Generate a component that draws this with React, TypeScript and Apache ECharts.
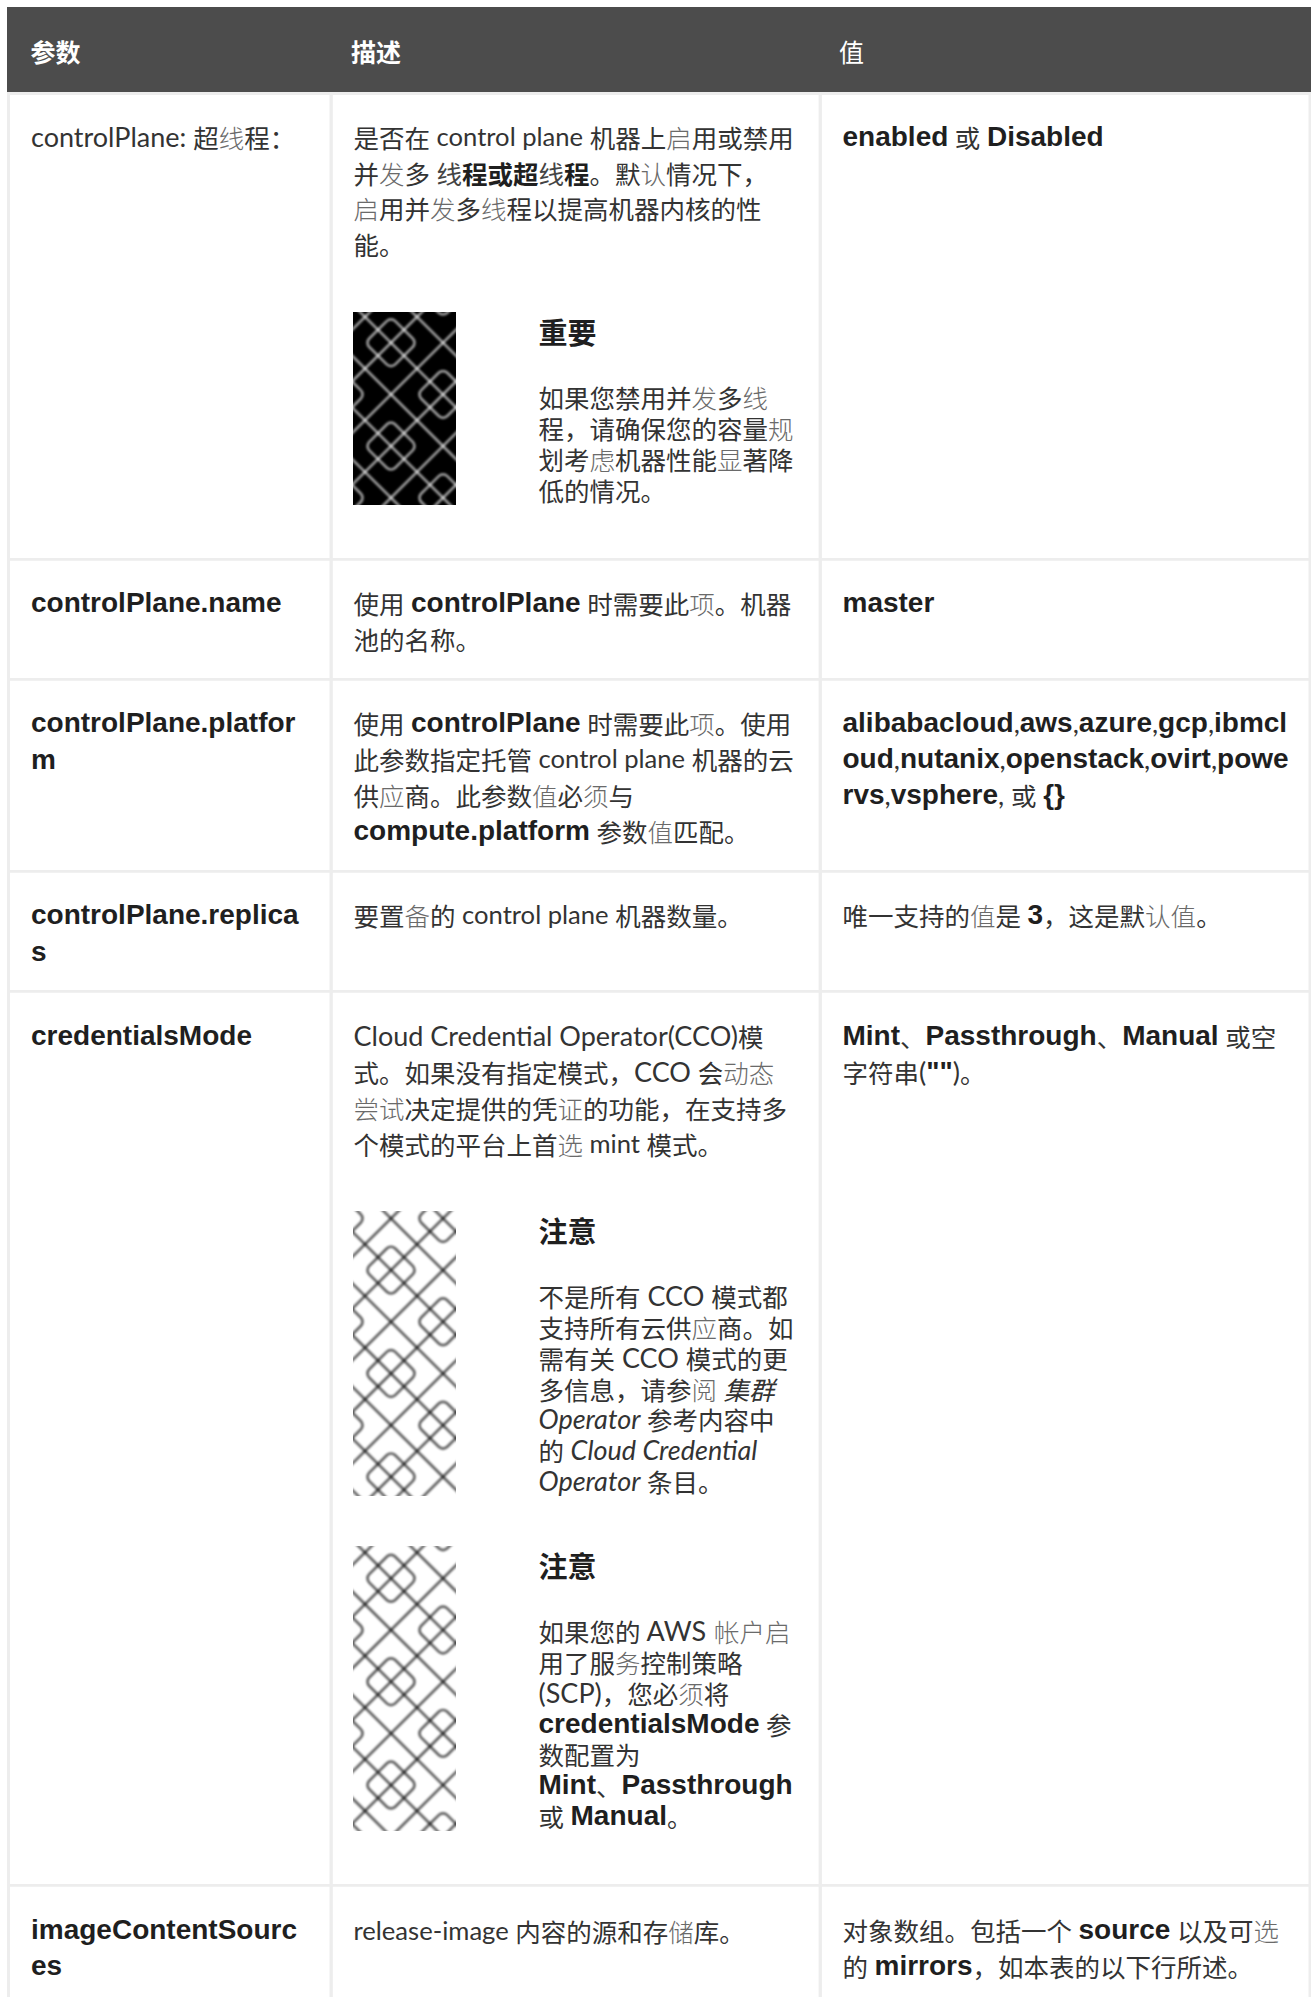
import React, { useEffect, useRef } from "react";
import * as echarts from "echarts";

// ---------- content ----------
const headers = ["参数", "描述", "值"];

const row1Param = ["controlPlane: 超线程："];
const row1Desc = ["是否在 control plane 机器上启用或禁用", "并发多 **线程或超线程**。默认情况下，", "启用并发多线程以提高机器内核的性", "能。"];
const row1NoteTitle = "重要";
const row1Note = ["如果您禁用并发多线", "程，请确保您的容量规", "划考虑机器性能显著降", "低的情况。"];
const row1Value = ["**enabled** 或 **Disabled**"];

const row2Param = ["**controlPlane.name**"];
const row2Desc = ["使用 **controlPlane** 时需要此项。机器", "池的名称。"];
const row2Value = ["**master**"];

const row3Param = ["**controlPlane.platfor**", "**m**"];
const row3Desc = ["使用 **controlPlane** 时需要此项。使用", "此参数指定托管 control plane 机器的云", "供应商。此参数值必须与", "**compute.platform** 参数值匹配。"];
const row3Value = ["**alibabacloud**,**aws**,**azure**,**gcp**,**ibmcl**", "**oud**,**nutanix**,**openstack**,**ovirt**,**powe**", "**rvs**,**vsphere**, 或 **{}**"];

const row4Param = ["**controlPlane.replica**", "**s**"];
const row4Desc = ["要置备的 control plane 机器数量。"];
const row4Value = ["唯一支持的值是 **3**，这是默认值。"];

const row5Param = ["**credentialsMode**"];
const row5Desc = ["Cloud Credential Operator(CCO)模", "式。如果没有指定模式，CCO 会动态", "尝试决定提供的凭证的功能，在支持多", "个模式的平台上首选 mint 模式。"];
const row5Value = ["**Mint**、**Passthrough**、**Manual** 或空", "字符串(**\"\"**)。"];
const row5Note1Title = "注意";
const row5Note1 = ["不是所有 CCO 模式都", "支持所有云供应商。如", "需有关 CCO 模式的更", "多信息，请参阅 _集群_", "_Operator_ 参考内容中", "的 _Cloud Credential_", "_Operator_ 条目。"];
const row5Note2Title = "注意";
const row5Note2 = ["如果您的 AWS 帐户启", "用了服务控制策略", "(SCP)，您必须将", "**credentialsMode** 参", "数配置为", "**Mint**、**Passthrough**", "或 **Manual**。"];

const row6Param = ["**imageContentSourc**", "**es**"];
const row6Desc = ["release-image 内容的源和存储库。"];
const row6Value = ["对象数组。包括一个 **source** 以及可选", "的 **mirrors**，如本表的以下行所述。"];

// ---------- layout ----------
const COL_X = [31, 353.5, 842.5];
const NOTE_TEXT_X = 538.5;
const NOTE_IMG_X = 353;
const NOTE_IMG_W = 103;
const LINE = "#ededed";

// glyphs that the reference renders from a thinner fallback face
const THIN = "线发认虑规显应项须值备动态尝试证选务储阅帐户启";

const LATIN = "Lato";
const CJK = "'Noto Sans CJK SC'";
const BOLD = "'Liberation Sans'";
const richStyles: any = {
  r: { fontFamily: LATIN, fontSize: 27, fontWeight: 400, fill: "#333333" },
  s: { fontFamily: LATIN, fontSize: 25.6, fontWeight: 400, fill: "#333333" },
  c: { fontFamily: CJK, fontSize: 25.5, fontWeight: 400, fill: "#333333" },
  l: { fontFamily: CJK, fontSize: 25.5, fontWeight: 300, fill: "#6a6a6a" },
  b: { fontFamily: BOLD, fontSize: 28, fontWeight: 700, fill: "#1f1f1f" },
  bc: { fontFamily: CJK, fontSize: 25.5, fontWeight: 700, fill: "#1f1f1f" },
  bl: { fontFamily: CJK, fontSize: 25.5, fontWeight: 400, fill: "#444444" },
  i: { fontFamily: LATIN, fontSize: 27, fontWeight: 400, fontStyle: "italic", fill: "#333333" },
  ic: { fontFamily: CJK, fontSize: 25.5, fontWeight: 400, fontStyle: "italic", fill: "#333333" },
};

const isCjk = (ch: string) => /[\u3000-\u9fff\uff00-\uffef]/.test(ch);

function toRich(markup: string): string {
  let out = "";
  const parts = markup.split(/(\*\*|_)/);
  let bold = false;
  let italic = false;
  for (const part of parts) {
    if (part === "**") { bold = !bold; continue; }
    if (part === "_") { italic = !italic; continue; }
    let run = "";
    let runStyle = "";
    const flush = () => {
      if (run) {
        const st = runStyle === "r" && /^[a-z\- ]+$/.test(run) ? "s" : runStyle;
        out += `{${st}|${run}}`;
      }
      run = "";
    };
    for (const ch of part) {
      let s: string;
      if (isCjk(ch)) {
        if (THIN.includes(ch)) s = bold ? "bl" : italic ? "ic" : "l";
        else s = bold ? "bc" : italic ? "ic" : "c";
      } else s = bold ? "b" : italic ? "i" : "r";
      if (s !== runStyle) { flush(); runStyle = s; }
      run += ch;
    }
    flush();
  }
  return out;
}

function text(x: number, y: number, markup: string): any {
  return {
    type: "text",
    silent: true,
    x,
    y,
    style: {
      text: toRich(markup),
      rich: richStyles,
      verticalAlign: "middle",
      align: "left",
      fontFamily: BOLD,
      fontSize: 28,
      fontWeight: 700,
      fill: "#1f1f1f",
    },
  };
}

function block(x: number, ys: number[], lines: string[]): any[] {
  return lines.map((l, i) => text(x, ys[i], l));
}

function heading(x: number, y: number, s: string, size: number, fill: string, weight: number): any {
  return {
    type: "text",
    silent: true,
    x,
    y,
    style: { text: s, fontFamily: CJK, fontSize: size, fontWeight: weight, fill, verticalAlign: "middle", align: "left" },
  };
}

function rect(x: number, y: number, width: number, height: number, fill: string): any {
  return { type: "rect", silent: true, shape: { x, y, width, height }, style: { fill } };
}

// Lattice ornament of the admonition icons, drawn to an off-screen canvas so it blurs like the upscaled original.
function ornament(h: number, originY: number, dark: boolean): string {
  const c = document.createElement("canvas");
  c.width = NOTE_IMG_W;
  c.height = Math.ceil(h);
  const ctx = c.getContext("2d")!;
  ctx.fillStyle = dark ? "#000000" : "#ffffff";
  ctx.fillRect(0, 0, c.width, c.height);
  const ux = 13;
  const uy = 12.92;
  const ox = 12;
  const px = (u: number) => ox + u * ux;
  const py = (v: number) => originY + v * uy;
  ctx.filter = "blur(1px)";
  ctx.strokeStyle = dark ? "rgba(255,255,255,0.6)" : "rgba(0,0,0,0.62)";
  ctx.lineWidth = 2.7;
  ctx.lineCap = "round";
  ctx.lineJoin = "round";
  const segment = (a: number, b: number, cc: number, d: number) => {
    ctx.beginPath();
    ctx.moveTo(px(a), py(b));
    ctx.lineTo(px(cc), py(d));
    ctx.stroke();
  };
  for (let k = -48; k <= 48; k += 4) {
    segment(-8, -8 - k, 40, 40 - k);
    segment(-8, k + 8, 40, k - 40);
  }
  const diamond = (cx: number, cy: number) => {
    const r = 6;
    ctx.beginPath();
    ctx.moveTo(px(cx - 1), py(cy - 1));
    ctx.arcTo(px(cx), py(cy - 2), px(cx + 2), py(cy), r);
    ctx.arcTo(px(cx + 2), py(cy), px(cx), py(cy + 2), r);
    ctx.arcTo(px(cx), py(cy + 2), px(cx - 2), py(cy), r);
    ctx.arcTo(px(cx - 2), py(cy), px(cx), py(cy - 2), r);
    ctx.closePath();
    ctx.stroke();
  };
  for (let i = -1; i <= 2; i++) {
    for (let j = -2; j <= 4; j++) {
      diamond(2 + 8 * i, 2 + 8 * j);
      diamond(6 + 8 * i, 6 + 8 * j);
    }
  }
  return c.toDataURL();
}

function image(y: number, h: number, originY: number, dark: boolean): any {
  return {
    type: "image",
    silent: true,
    style: { image: ornament(h, originY - y, dark), x: NOTE_IMG_X, y, width: NOTE_IMG_W, height: Math.ceil(h) },
  };
}

function buildElements(): any[] {
  const els: any[] = [];
  els.push(rect(0, 0, 1311, 1997, "#ffffff"));
  // table frame
  els.push(rect(7, 92, 1304, 3, LINE));
  els.push(rect(7, 92, 3, 1905, LINE));
  els.push(rect(329.5, 92, 3.3, 1905, LINE));
  els.push(rect(818.6, 92, 3.3, 1905, LINE));
  els.push(rect(1308.5, 92, 2.5, 1905, LINE));
  for (const y of [558, 678, 870, 990, 1884]) els.push(rect(7, y, 1304, 2.8, LINE));
  // header
  els.push(rect(7, 7, 1304, 85, "#4c4c4c"));
  els.push(heading(30.5, 51, headers[0], 25, "#ffffff", 700));
  els.push(heading(351, 51, headers[1], 25, "#ffffff", 700));
  els.push(heading(839, 51, headers[2], 25, "#ffffff", 400));

  // row 1
  els.push(...block(COL_X[0], [136], row1Param));
  els.push(...block(COL_X[1], [136, 172, 207.5, 243.5], row1Desc));
  els.push(image(312, 192.6, 316.9, true));
  els.push(heading(NOTE_TEXT_X, 331, row1NoteTitle, 29, "#1f1f1f", 700));
  els.push(...block(NOTE_TEXT_X, [396, 427.5, 458.5, 489], row1Note));
  els.push(...block(COL_X[2], [136], row1Value));
  // row 2
  els.push(...block(COL_X[0], [602], row2Param));
  els.push(...block(COL_X[1], [602, 638], row2Desc));
  els.push(...block(COL_X[2], [602], row2Value));
  // row 3
  els.push(...block(COL_X[0], [722, 759], row3Param));
  els.push(...block(COL_X[1], [722, 758, 794, 830], row3Desc));
  els.push(...block(COL_X[2], [722, 758.5, 794.5], row3Value));
  // row 4
  els.push(...block(COL_X[0], [914, 951], row4Param));
  els.push(...block(COL_X[1], [914], row4Desc));
  els.push(...block(COL_X[2], [914], row4Value));
  // row 5
  els.push(...block(COL_X[0], [1035], row5Param));
  els.push(...block(COL_X[1], [1035, 1071, 1107, 1143], row5Desc));
  els.push(...block(COL_X[2], [1035, 1071.5], row5Value));
  els.push(image(1211, 284.7, 1244.3, false));
  els.push(heading(NOTE_TEXT_X, 1230, row5Note1Title, 29, "#1f1f1f", 700));
  els.push(...block(NOTE_TEXT_X, [1295.5, 1326.5, 1357, 1388.5, 1418.5, 1449, 1480], row5Note1));
  els.push(image(1546, 284.7, 1552.5, false));
  els.push(heading(NOTE_TEXT_X, 1565, row5Note2Title, 29, "#1f1f1f", 700));
  els.push(...block(NOTE_TEXT_X, [1630.5, 1661.5, 1692.5, 1723, 1753.5, 1784.5, 1815.5], row5Note2));
  // row 6
  els.push(...block(COL_X[0], [1929, 1965], row6Param));
  els.push(...block(COL_X[1], [1930], row6Desc));
  els.push(...block(COL_X[2], [1929, 1965], row6Value));
  return els;
}

export default function App() {
  const ref = useRef<HTMLDivElement>(null);
  useEffect(() => {
    const chart = echarts.init(ref.current!, undefined, { renderer: "svg" });
    chart.setOption({ animation: false, graphic: { elements: buildElements() } });
    return () => chart.dispose();
  }, []);
  return <div ref={ref} style={{ position: "absolute", left: 0, top: 0, width: 1311, height: 1997 }} />;
}
